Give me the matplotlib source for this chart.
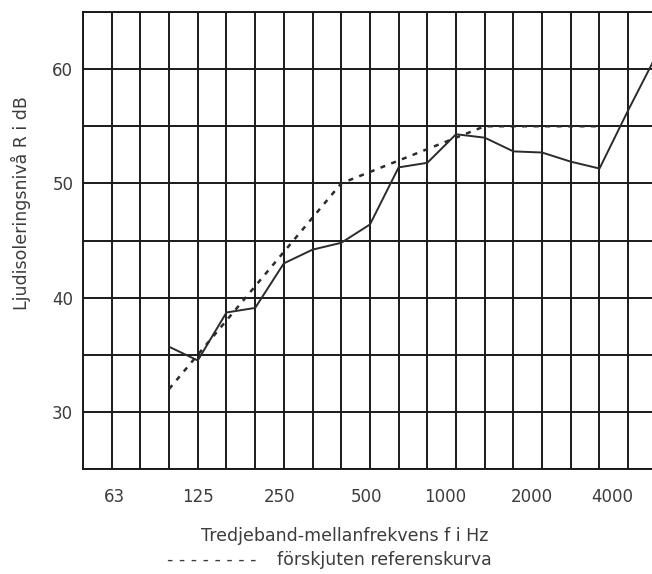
import matplotlib
matplotlib.use("Agg")
import matplotlib.pyplot as plt
import matplotlib.transforms as mtransforms

plt.rcParams['font.family'] = ['DejaVu Sans']

# third-octave band centre frequencies (Hz)
bands = [50, 63, 80, 100, 125, 160, 200, 250, 315, 400, 500, 630, 800,
         1000, 1250, 1600, 2000, 2500, 3150, 4000, 5000]
tick_freqs = [63, 125, 250, 500, 1000, 2000, 4000]
tick_labels = ["63", "125", "250", "500", "1000", "2000", "4000"]

# measured sound reduction index R (dB), 100 Hz .. 5000 Hz
meas_freq = [100, 125, 160, 200, 250, 315, 400, 500, 630, 800, 1000, 1250,
             1600, 2000, 2500, 3150, 4000, 5000]
meas_R = [35.7, 34.5, 38.7, 39.1, 43.0, 44.2, 44.8, 46.4, 51.4, 51.8, 54.3,
          54.0, 52.8, 52.7, 51.9, 51.3, 56.4, 61.3]

# shifted reference curve (dB), 100 Hz .. 3150 Hz
ref_freq = [100, 125, 160, 200, 250, 315, 400, 500, 630, 800, 1000, 1250,
            1600, 2000, 2500, 3150]
ref_R = [32, 35, 38, 41, 44, 47, 50, 51, 52, 53, 54, 55, 55, 55, 55, 55]

def idx(f):
    return bands.index(f)

W, H = 652, 574
fig = plt.figure(figsize=(W / 100, H / 100), dpi=100)
ax = fig.add_axes([83 / W, 1 - 469 / H, (652 - 83) / W, (469 - 12) / H])

gcol = "#1a1a1a"
tcol = "#3c3c3c"
ax.set_xlim(0, 19.83)
ax.set_ylim(25, 65)
for i in range(len(bands)):
    ax.axvline(i, color=gcol, lw=1.4, zorder=1)
for y in range(25, 66, 5):
    ax.axhline(y, color=gcol, lw=1.4, zorder=1)

ax.plot([idx(f) for f in meas_freq], meas_R, color="#2b2b2b", lw=1.4,
        zorder=3)
ax.plot([idx(f) for f in ref_freq], ref_R, color="#2b2b2b", lw=1.8,
        dashes=(2.0, 2.6), zorder=3)

ax.set_xticks([idx(f) for f in tick_freqs])
ax.set_xticklabels(tick_labels)
ax.set_yticks([30, 40, 50, 60])
ax.set_yticklabels(["30", "40", "50", "60"])
ax.tick_params(length=0, labelsize=12, colors=tcol)
ax.tick_params(axis='y', pad=7)
ax.tick_params(axis='x', pad=14)

# small horizontal nudges of the x tick labels (pixels), as in the original
nudges = [3, 0, -4, -3, -11, -10, -16]
for lab, dx in zip(ax.get_xticklabels(), nudges):
    lab.set_transform(lab.get_transform() +
                      mtransforms.ScaledTranslation(dx / 100, 0, fig.dpi_scale_trans))

for s in ["left", "top", "bottom"]:
    ax.spines[s].set_color(gcol)
    ax.spines[s].set_linewidth(1.4)
ax.spines["right"].set_visible(False)

fig.text(21 / W, 1 - 203 / H, "Ljudisoleringsnivå R i dB", rotation=90,
         ha="center", va="center", fontsize=12.5, color=tcol)
fig.text(345 / W, 1 - 536 / H, "Tredjeband-mellanfrekvens f i Hz",
         ha="center", va="center", fontsize=12.5, color=tcol)
fig.text(167 / W, 1 - 560 / H, "- - - - - - - -", ha="left", va="center",
         fontsize=12.5, color=tcol)
fig.text(277 / W, 1 - 560 / H, "förskjuten referenskurva", ha="left",
         va="center", fontsize=12.5, color=tcol)

fig.savefig("out.png", dpi=100)
